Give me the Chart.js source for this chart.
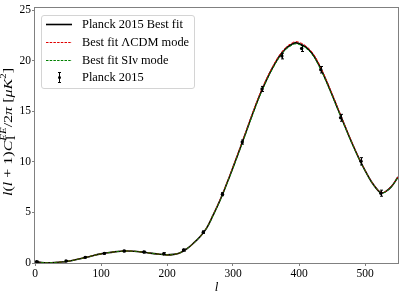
<!DOCTYPE html>
<html>
<head>
<meta charset="utf-8">
<script src="https://cdn.jsdelivr.net/npm/chart.js@4"></script>
<style>
  html, body { margin: 0; padding: 0; background: #fff; }
  #wrap { width: 404px; height: 295px; }
</style>
</head>
<body>
<div id="wrap"><canvas id="myChart" width="404" height="295"></canvas></div>
<script>
// Planck 2015 binned EE points
var ellData = [2.5, 47, 76, 105, 135, 165, 195, 225, 255, 284, 314, 344, 374, 404, 433, 463, 494, 524];
var eeData = [0.12, 0.2, 0.56, 0.95, 1.18, 1.08, 0.92, 1.28, 3.05, 6.8, 11.95, 17.2, 20.45, 21.2, 19.1, 14.35, 10.05, 6.9];
var eeErr = [0.06, 0.04, 0.05, 0.06, 0.07, 0.08, 0.09, 0.1, 0.12, 0.15, 0.2, 0.25, 0.28, 0.3, 0.32, 0.34, 0.36, 0.3];

// best-fit curves
var ellFit = [2, 10, 20, 30, 40, 50, 60, 70, 80, 90, 100, 110, 120, 130, 140, 150, 160, 170, 180, 190,
  200, 210, 220, 230, 240, 250, 260, 270, 280, 290, 300, 310, 320, 330, 340, 350, 360, 370, 380, 390,
  395, 400, 410, 420, 430, 440, 450, 460, 470, 480, 490, 500, 510, 520, 525, 530, 540, 550];
var planckFit = [0.12, 0.05, 0.03, 0.05, 0.1, 0.18, 0.3, 0.45, 0.6, 0.76, 0.9, 1.01, 1.1, 1.16, 1.18, 1.16, 1.1, 1.02, 0.93, 0.86,
  0.8, 0.85, 1.02, 1.4, 1.95, 2.6, 3.45, 4.75, 6.15, 7.75, 9.45, 11.2, 13.0, 14.8, 16.5, 18.0, 19.3, 20.4, 21.2, 21.65,
  21.75, 21.7, 21.35, 20.7, 19.6, 18.2, 16.65, 15.05, 13.45, 11.9, 10.45, 9.15, 8.0, 7.15, 6.95, 7.0, 7.55, 8.5];
var lcdmFit = [0.12, 0.05, 0.03, 0.05, 0.1, 0.18, 0.3, 0.45, 0.6, 0.76, 0.9, 1.01, 1.1, 1.16, 1.18, 1.16, 1.1, 1.02, 0.93, 0.86,
  0.8, 0.85, 1.02, 1.4, 1.95, 2.6, 3.47, 4.78, 6.2, 7.8, 9.52, 11.28, 13.08, 14.9, 16.6, 18.1, 19.4, 20.5, 21.3, 21.77,
  21.87, 21.82, 21.47, 20.82, 19.72, 18.3, 16.75, 15.13, 13.52, 11.95, 10.5, 9.18, 8.03, 7.17, 6.97, 7.02, 7.57, 8.52];
var sinuFit = [0.12, 0.05, 0.03, 0.05, 0.1, 0.18, 0.3, 0.45, 0.6, 0.76, 0.9, 1.01, 1.1, 1.16, 1.18, 1.16, 1.1, 1.02, 0.93, 0.86,
  0.8, 0.85, 1.02, 1.4, 1.95, 2.6, 3.44, 4.72, 6.1, 7.7, 9.38, 11.12, 12.92, 14.7, 16.4, 17.9, 19.2, 20.3, 21.1, 21.55,
  21.65, 21.6, 21.25, 20.6, 19.5, 18.1, 16.56, 14.97, 13.38, 11.85, 10.4, 9.12, 7.98, 7.13, 6.93, 6.98, 7.53, 8.48];

var xTicks = [0, 100, 200, 300, 400, 500];
var yTicks = [0, 5, 10, 15, 20, 25];

var legendLabels = ['Planck 2015 Best fit', 'Best fit \u039BCDM mode', 'Best fit SI\u03BD mode', 'Planck 2015'];

var serif = '"Liberation Serif", "DejaVu Serif", serif';

function pairs(xs, ys) {
    return xs.map(function (x, i) { return { x: x, y: ys[i] }; });
}

// error bars for the Planck points
var errorBars = {
    id: 'errorBars',
    afterDatasetsDraw: function (chart) {
        var c = chart.ctx, xs = chart.scales.x, ys = chart.scales.y;
        c.save();
        c.strokeStyle = '#000';
        c.lineWidth = 1;
        ellData.forEach(function (l, i) {
            var px = Math.round(xs.getPixelForValue(l)) + 0.5;
            var top = ys.getPixelForValue(eeData[i] + eeErr[i]);
            var bot = ys.getPixelForValue(eeData[i] - eeErr[i]);
            c.beginPath();
            c.moveTo(px, top); c.lineTo(px, bot);
            c.moveTo(px - 1.5, top); c.lineTo(px + 1.5, top);
            c.moveTo(px - 1.5, bot); c.lineTo(px + 1.5, bot);
            c.stroke();
        });
        c.restore();
    }
};

function piecesWidth(c, pieces) {
    var total = 0;
    pieces.forEach(function (p) { c.font = p.f; total += c.measureText(p.t).width; });
    return total;
}

function drawPieces(c, pieces, x, y) {
    var cx = x - piecesWidth(c, pieces) / 2;
    pieces.forEach(function (p) {
        c.font = p.f;
        c.fillText(p.t, cx, y + (p.dy || 0));
        cx += c.measureText(p.t).width;
    });
}

var decorations = {
    id: 'decorations',
    afterDraw: function (chart) {
        var c = chart.ctx, a = chart.chartArea;
        c.save();
        c.strokeStyle = '#808080';
        c.lineWidth = 1;
        c.strokeRect(a.left - 0.5, a.top - 0.5, a.right - a.left + 1, a.bottom - a.top + 1);

        c.fillStyle = '#000';
        c.textBaseline = 'alphabetic';
        // x label
        c.font = 'italic 13px ' + serif;
        c.textAlign = 'center';
        c.fillText('l', (a.left + a.right) / 2, 291);

        // y label, stretched along its length to the reference
        c.textAlign = 'left';
        var it = 'italic 12.5px ' + serif, up = '12.5px ' + serif;
        var itS = 'italic 8.5px ' + serif, upS = '8.5px ' + serif;
        var yPieces = [
            { t: 'l', f: it }, { t: '(', f: up }, { t: 'l', f: it }, { t: ' + 1)', f: up },
            { t: 'C', f: it }, { t: 'EE', f: itS, dy: -5.5 }, { t: '/2', f: up }, { t: '\u03C0', f: it },
            { t: ' [', f: up }, { t: '\u03BCK', f: it }, { t: '2', f: upS, dy: -5.5 }, { t: ']', f: up }
        ];
        var k = 128 / piecesWidth(c, yPieces);
        c.translate(11.5, 132);
        c.rotate(-Math.PI / 2);
        c.scale(k, 1);
        drawPieces(c, yPieces, 0, 0);
        // subscript l under EE
        var wBefore = piecesWidth(c, yPieces.slice(0, 5));
        c.font = itS;
        c.fillText('l', -piecesWidth(c, yPieces) / 2 + wBefore + 0.5, 3);
        c.restore();

        // legend
        c.save();
        var bx = 41.5, by = 15.5, bw = 153, bh = 73;
        c.beginPath();
        c.roundRect(bx, by, bw, bh, 2.5);
        c.fillStyle = 'rgba(255,255,255,0.85)';
        c.fill();
        c.strokeStyle = '#d4d4d4';
        c.lineWidth = 1;
        c.stroke();

        var rows = [24.5, 42.5, 60.5, 77.5];
        var styles = [
            { color: '#000', dash: [], width: 1.6 },
            { color: '#e00000', dash: [2.5, 1.2], width: 1 },
            { color: '#008000', dash: [2.5, 1.2], width: 1 }
        ];
        styles.forEach(function (s, i) {
            c.beginPath();
            c.setLineDash(s.dash);
            c.strokeStyle = s.color;
            c.lineWidth = s.width;
            c.moveTo(46, rows[i]); c.lineTo(72, rows[i]);
            c.stroke();
        });
        c.setLineDash([]);
        c.strokeStyle = '#000';
        c.lineWidth = 1;
        c.beginPath();
        c.moveTo(59.5, rows[3] - 5); c.lineTo(59.5, rows[3] + 5);
        c.moveTo(58, rows[3] - 5); c.lineTo(61, rows[3] - 5);
        c.moveTo(58, rows[3] + 5); c.lineTo(61, rows[3] + 5);
        c.stroke();
        c.fillStyle = '#000';
        c.beginPath();
        c.arc(59.5, rows[3], 1.5, 0, Math.PI * 2);
        c.fill();

        c.font = '12px ' + serif;
        var fs = Math.min(13.5, 12 * 101 / c.measureText(legendLabels[0]).width);
        c.font = fs.toFixed(1) + 'px ' + serif;
        c.textBaseline = 'middle';
        c.textAlign = 'left';
        legendLabels.forEach(function (t, i) {
            c.fillText(t, 82, rows[i] + 0.5);
        });
        c.restore();
    }
};

var ctx = document.getElementById('myChart').getContext('2d');
var myChart = new Chart(ctx, {
    type: 'line',
    data: {
        datasets: [{
            label: legendLabels[3],
            data: pairs(ellData, eeData),
            showLine: false,
            pointRadius: 1.7,
            pointBackgroundColor: '#000',
            pointBorderWidth: 0,
            order: 0
        }, {
            label: legendLabels[2],
            data: pairs(ellFit, sinuFit),
            borderColor: '#008000',
            borderWidth: 1,
            borderDash: [3, 1.5],
            pointRadius: 0,
            tension: 0.4,
            order: 1
        }, {
            label: legendLabels[1],
            data: pairs(ellFit, lcdmFit),
            borderColor: '#e00000',
            borderWidth: 1,
            borderDash: [3, 1.5],
            pointRadius: 0,
            tension: 0.4,
            order: 2
        }, {
            label: legendLabels[0],
            data: pairs(ellFit, planckFit),
            borderColor: '#000',
            borderWidth: 1.6,
            pointRadius: 0,
            tension: 0.4,
            order: 3
        }]
    },
    options: {
        responsive: false,
        animation: false,
        events: [],
        layout: { padding: { top: 8, right: 6, left: 0, bottom: 0 } },
        plugins: {
            legend: { display: false },
            tooltip: { enabled: false }
        },
        scales: {
            x: {
                type: 'linear',
                min: 0,
                max: 550,
                afterBuildTicks: function (s) { s.ticks = xTicks.map(function (v) { return { value: v }; }); },
                afterFit: function (s) { s.height = 32; },
                grid: { display: true, drawOnChartArea: false, tickLength: 3, color: '#808080' },
                border: { display: false },
                ticks: { color: '#000', padding: 1, maxRotation: 0, font: { family: serif, size: 11.5 } }
            },
            y: {
                min: 0,
                max: 25.2,
                afterBuildTicks: function (s) { s.ticks = yTicks.map(function (v) { return { value: v }; }); },
                afterFit: function (s) { s.width = 35; },
                grid: { display: true, drawOnChartArea: false, tickLength: 3, color: '#808080' },
                border: { display: false },
                ticks: { color: '#000', padding: 1, font: { family: serif, size: 11.5 } }
            }
        }
    },
    plugins: [errorBars, decorations]
});
</script>
</body>
</html>
